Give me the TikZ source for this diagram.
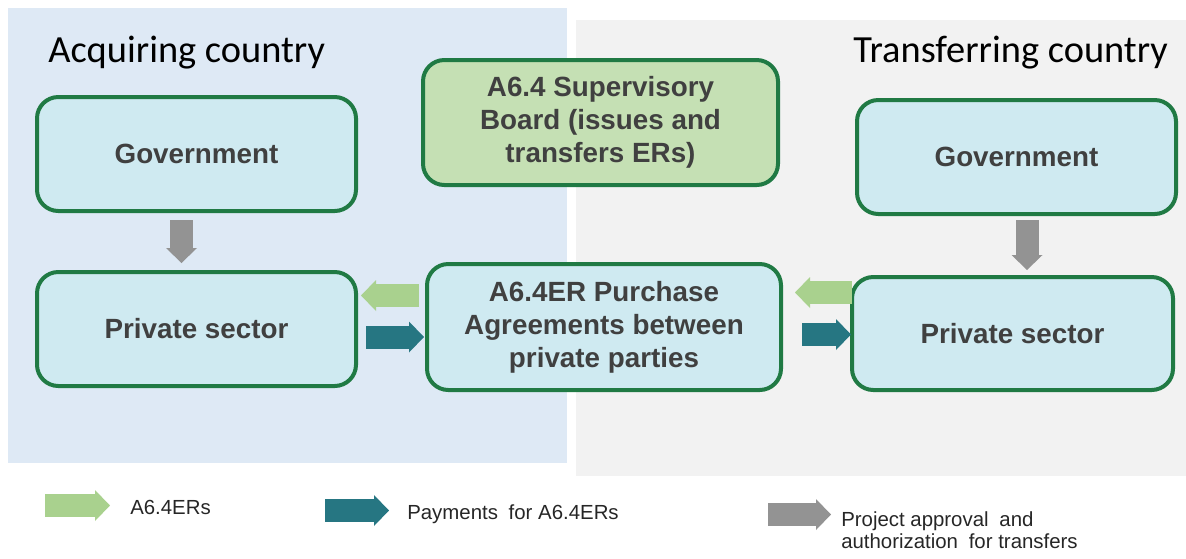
\documentclass[tikz,border=0pt]{standalone}
\usepackage{fontspec}
\setmainfont{Liberation Sans}
\newfontfamily\titlefont{Carlito}
\usetikzlibrary{arrows.meta,calc}

\definecolor{acqbg}{RGB}{222,233,245}
\definecolor{trbg}{RGB}{242,242,242}
\definecolor{boxfill}{RGB}{207,234,241}
\definecolor{sbfill}{RGB}{197,224,180}
\definecolor{boxline}{RGB}{32,122,68}
\definecolor{boxtext}{RGB}{64,64,64}
\definecolor{erarrow}{RGB}{169,209,142}
\definecolor{payarrow}{RGB}{38,118,130}
\definecolor{apparrow}{RGB}{147,147,147}

\tikzset{
  x=0.75pt, y=-0.75pt,
  box/.style={draw=boxline, line width=3pt, fill=boxfill, rounded corners=16pt,
    align=center, text=boxtext, inner sep=0pt,
    font=\fontsize{20.85pt}{24.75pt}\selectfont\bfseries},
  blockarr/.style={draw=#1, line width=17.25pt,
    -{Triangle[length=11.25pt, width=23.25pt, line width=0pt]}},
  erarr/.style={blockarr=erarrow},
  payarr/.style={blockarr=payarrow},
  apparr/.style={blockarr=apparrow},
  countrylabel/.style={anchor=base west, inner sep=0pt,
    font=\titlefont\fontsize{28.8pt}{34pt}\selectfont},
  legendtext/.style={anchor=base west, inner sep=0pt, align=left,
    font=\fontsize{15.3pt}{16.5pt}\selectfont, text=black!85}
}

\begin{document}
\begin{tikzpicture}
\path[use as bounding box] (0,0) rectangle (1186,558);

% country panels
\fill[acqbg] (8,8) rectangle (567,463);
\fill[trbg] (576,20) rectangle (1186,476);
\node[countrylabel] (acqtitle) at (48,62) {Acquiring country};
\node[countrylabel] (trtitle) at (853,62) {Transferring country};

% boxes
\node[box, minimum width=319*0.75pt, minimum height=114*0.75pt] (gl) at (196.5,154) {Government};
\node[box, minimum width=319*0.75pt, minimum height=114*0.75pt] (pl) at (196.5,329) {Private sector};
\node[box, fill=sbfill, minimum width=355*0.75pt, minimum height=125*0.75pt] (sb) at (600.5,122.5)
  {A6.4 Supervisory\\Board (issues and\\transfers ERs)};
\node[box, minimum width=354*0.75pt, minimum height=126*0.75pt] (pc) at (604,327)
  {A6.4ER Purchase\\Agreements between\\private parties};
\node[box, minimum width=319*0.75pt, minimum height=114*0.75pt] (gr) at (1016.5,157) {Government};
\node[box, minimum width=321*0.75pt, minimum height=113*0.75pt] (pr) at (1012.5,333.5) {Private sector};

% approval arrows
\draw[apparr] ($(gl.south)+(-15,7)$) coordinate (ga) -- ($(ga |- pl.north)+(0,-7)$);
\draw[apparr] ($(gr.south)+(10.5,4)$) coordinate (gb) -- ($(gb |- pr.north)+(0,-5)$);

% transfer and payment arrows
\draw[erarr] ($(pc.west)+(-6,-31.5)$) coordinate (ea) -- ($(ea -| pl.east)+(3,0)$);
\draw[payarr] ($(pl.east)+(8,8)$) coordinate (pa) -- ($(pa -| pc.west)+(-1,0)$);
\draw[erarr] ($(pr.west)+(2,-41)$) coordinate (eb) -- ($(eb -| pc.east)+(12,0)$);
\draw[payarr] ($(pc.east)+(19,7.5)$) coordinate (pb) -- ($(pb -| pr.west)+(1,0)$);

% legend
\draw[erarr] (45,505.5) coordinate (l1) -- (110,505.5) coordinate (l1e);
\node[legendtext] (t1) at (130,514) {A6.4ERs};
\draw[payarr] (325,510.5) coordinate (l2) -- (389,510.5) coordinate (l2e);
\node[legendtext] (t2) at (407,519) {Payments\hspace{0.25em} for A6.4ERs};
\draw[apparr] (768,514.5) coordinate (l3) -- (831,514.5) coordinate (l3e);
\node[legendtext] (t3) at (841,548) {Project approval\hspace{0.25em} and\\authorization\hspace{0.25em} for transfers};
\end{tikzpicture}
\end{document}
